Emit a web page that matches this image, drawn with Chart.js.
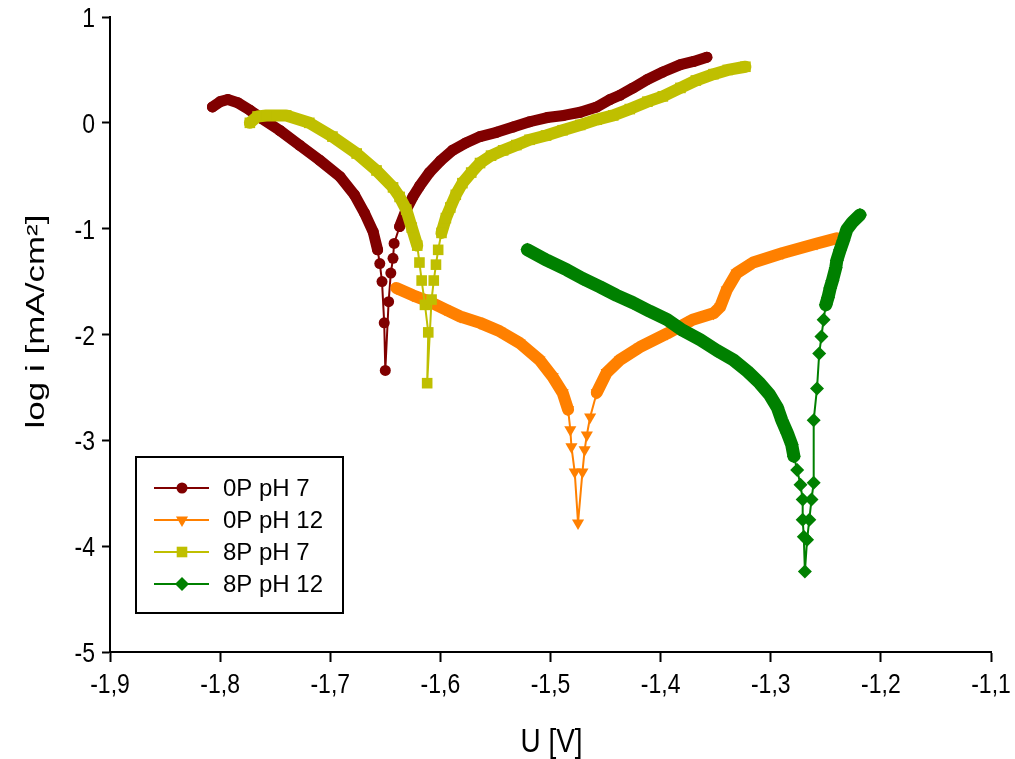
<!DOCTYPE html>
<html>
<head>
<meta charset="utf-8">
<title>Tafel curves</title>
<script src="https://cdn.jsdelivr.net/npm/chart.js@4.4.1/dist/chart.umd.min.js"></script>
<style>
  html, body { margin: 0; padding: 0; background: #fff; }
  #wrap { width: 1015px; height: 759px; }
</style>
</head>
<body>
<div id="wrap"><canvas id="tafel" width="1015" height="759"></canvas></div>
<script>
// Potential U [V] and log i [mA/cm2], one pair of arrays per curve
const u0P7 = [-1.807, -1.800, -1.793, -1.784, -1.773, -1.762, -1.746, -1.728, -1.710, -1.691,
  -1.678, -1.669, -1.661, -1.657, -1.655, -1.653, -1.651, -1.650, -1.647, -1.645,
  -1.643, -1.642, -1.637, -1.631, -1.625, -1.619, -1.610, -1.600, -1.589, -1.577,
  -1.564, -1.549, -1.534, -1.519, -1.503, -1.488, -1.473, -1.458, -1.446, -1.437,
  -1.425, -1.412, -1.398, -1.382, -1.370, -1.358];
const i0P7 = [0.15, 0.20, 0.22, 0.19, 0.12, 0.04, -0.07, -0.21, -0.35, -0.51,
  -0.68, -0.85, -1.03, -1.20, -1.33, -1.50, -1.89, -2.34, -1.69, -1.42,
  -1.28, -1.14, -0.98, -0.82, -0.70, -0.60, -0.47, -0.36, -0.26, -0.19,
  -0.13, -0.09, -0.04, 0.01, 0.05, 0.07, 0.10, 0.15, 0.22, 0.26,
  0.33, 0.41, 0.48, 0.55, 0.58, 0.62];

const u0P12 = [-1.640, -1.625, -1.610, -1.596, -1.582, -1.564, -1.546, -1.528, -1.510, -1.498,
  -1.489, -1.484, -1.482, -1.481, -1.478, -1.475, -1.471, -1.469, -1.467, -1.464,
  -1.458, -1.449, -1.437, -1.419, -1.394, -1.371, -1.352, -1.346, -1.340, -1.331,
  -1.316, -1.289, -1.258, -1.240];
const i0P12 = [-1.56, -1.63, -1.69, -1.76, -1.83, -1.89, -1.97, -2.08, -2.24, -2.40,
  -2.55, -2.71, -2.90, -3.06, -3.30, -3.78, -3.30, -3.09, -2.95, -2.78,
  -2.55, -2.36, -2.24, -2.12, -1.99, -1.86, -1.80, -1.74, -1.58, -1.42,
  -1.32, -1.23, -1.14, -1.09];

const u8P7 = [-1.773, -1.766, -1.758, -1.740, -1.719, -1.698, -1.676, -1.658, -1.643, -1.637,
  -1.631, -1.626, -1.621, -1.619, -1.617, -1.614, -1.611, -1.612, -1.608, -1.606,
  -1.604, -1.602, -1.599, -1.595, -1.591, -1.586, -1.580, -1.572, -1.564, -1.554,
  -1.543, -1.531, -1.519, -1.504, -1.489, -1.473, -1.458, -1.443, -1.428, -1.412,
  -1.398, -1.382, -1.368, -1.352, -1.339, -1.323];
const i8P7 = [0.00, 0.06, 0.07, 0.07, 0.00, -0.13, -0.29, -0.45, -0.61, -0.70,
  -0.82, -0.99, -1.16, -1.32, -1.49, -1.72, -1.98, -2.46, -1.67, -1.49,
  -1.34, -1.20, -1.04, -0.90, -0.80, -0.68, -0.57, -0.47, -0.38, -0.31,
  -0.26, -0.21, -0.16, -0.12, -0.07, -0.02, 0.03, 0.07, 0.13, 0.20,
  0.25, 0.33, 0.40, 0.46, 0.50, 0.53];

const u8P12 = [-1.521, -1.503, -1.485, -1.471, -1.455, -1.440, -1.425, -1.410, -1.394, -1.380,
  -1.364, -1.349, -1.334, -1.321, -1.310, -1.301, -1.294, -1.290, -1.285, -1.281,
  -1.279, -1.276, -1.273, -1.271, -1.271, -1.270, -1.269, -1.267, -1.265, -1.263,
  -1.261, -1.261, -1.258, -1.256, -1.254, -1.252, -1.250, -1.248, -1.246, -1.244,
  -1.241, -1.240, -1.237, -1.234, -1.231, -1.226, -1.219];
const i8P12 = [-1.20, -1.30, -1.39, -1.47, -1.55, -1.63, -1.70, -1.78, -1.86, -1.96,
  -2.05, -2.15, -2.24, -2.35, -2.46, -2.57, -2.69, -2.81, -2.93, -3.04,
  -3.15, -3.28, -3.42, -3.56, -3.75, -3.91, -4.24, -3.94, -3.75, -3.56,
  -3.40, -2.81, -2.51, -2.18, -2.02, -1.86, -1.72, -1.65, -1.56, -1.49,
  -1.37, -1.30, -1.20, -1.11, -1.01, -0.94, -0.87];

const seriesLabels = ['0P pH 7', '0P pH 12', '8P pH 7', '8P pH 12'];
const uTicks = [-1.9, -1.8, -1.7, -1.6, -1.5, -1.4, -1.3, -1.2, -1.1];
const logTicks = [1, 0, -1, -2, -3, -4, -5];
const xTitle = 'U [V]';
const yTitle = 'log i [mA/cm²]';

// look of each curve
const colors = ['#800000', '#ff8000', '#bfbf00', '#008000'];
const markers = [
  { pointStyle: 'circle', radius: 5.5, rotation: 0 },
  { pointStyle: 'triangle', radius: 7, rotation: 180 },
  { pointStyle: 'rect', radius: 7.5, rotation: 0 },
  { pointStyle: 'rectRot', radius: 7, rotation: 0 }
];
const bandWidth = [11, 12, 12, 13];
// around the corrosion potential the points are far apart: thin line there
const thinWindow = [[-1.6565, -1.6415], [-1.4825, -1.4635], [-1.6195, -1.6015], [-1.2775, -1.2515]];

const pairs = (us, is) => us.map((u, k) => ({ x: u, y: is[k] }));
const curves = [pairs(u0P7, i0P7), pairs(u0P12, i0P12), pairs(u8P7, i8P7), pairs(u8P12, i8P12)];

const fontSans = '"Liberation Sans", Arial, sans-serif';
const fmtU = v => v.toFixed(1).replace('.', ',');

function makeDataset(k) {
  const win = thinWindow[k];
  const inWin = v => v >= win[0] && v <= win[1];
  return {
    label: seriesLabels[k],
    data: curves[k],
    showLine: true,
    borderColor: colors[k],
    backgroundColor: colors[k],
    borderWidth: 2,
    borderJoinStyle: 'round',
    borderCapStyle: 'round',
    pointStyle: markers[k].pointStyle,
    pointRadius: markers[k].radius,
    pointRotation: markers[k].rotation,
    pointBorderWidth: 0,
    pointHoverRadius: markers[k].radius,
    order: 3 - k,
    segment: {
      borderWidth: c => (inWin(c.p0.parsed.x) || inWin(c.p1.parsed.x)) ? 2 : bandWidth[k]
    }
  };
}

// boxed legend in the lower left of the plot, line + marker for each curve
const legendBox = {
  id: 'legendBox',
  afterDraw(chart) {
    const { ctx, chartArea } = chart;
    const left = chartArea.left + 26, top = chartArea.top + 440;
    const w = 207, h = 156;
    ctx.save();
    ctx.fillStyle = '#fff';
    ctx.fillRect(left, top, w, h);
    ctx.strokeStyle = '#000';
    ctx.lineWidth = 2;
    ctx.strokeRect(left, top, w, h);
    chart.data.datasets.forEach((ds, k) => {
      const y = top + 31 + k * 32;
      ctx.strokeStyle = ds.borderColor;
      ctx.lineWidth = 2;
      ctx.beginPath();
      ctx.moveTo(left + 18, y);
      ctx.lineTo(left + 73, y);
      ctx.stroke();
      ctx.fillStyle = ds.borderColor;
      Chart.helpers.drawPoint(ctx, {
        pointStyle: ds.pointStyle, rotation: ds.pointRotation, radius: ds.pointRadius, borderWidth: 0
      }, left + 46, y);
      ctx.fillStyle = '#000';
      ctx.font = '24px ' + fontSans;
      ctx.textBaseline = 'middle';
      ctx.textAlign = 'left';
      ctx.fillText(ds.label, left + 87, y + 1);
    });
    ctx.restore();
  }
};

// axis numbers and titles: the original has tall, narrow axis lettering
// and a long, thin y title, so they are drawn with a horizontal squeeze / stretch
function scaledText(ctx, text, x, y, sx, rot) {
  ctx.save();
  ctx.translate(x, y);
  if (rot) ctx.rotate(rot);
  ctx.scale(sx, 1);
  ctx.fillText(text, 0, 0);
  ctx.restore();
}

const axisText = {
  id: 'axisText',
  afterDraw(chart) {
    const { ctx, chartArea, scales } = chart;
    const sx = scales.x, sy = scales.y;
    ctx.save();
    ctx.fillStyle = '#000';
    ctx.font = '28px ' + fontSans;
    ctx.textBaseline = 'alphabetic';

    ctx.textAlign = 'center';
    uTicks.forEach(v => scaledText(ctx, fmtU(v), sx.getPixelForValue(v), sx.top + 41, 0.82));

    ctx.textAlign = 'right';
    logTicks.forEach(v => scaledText(ctx, String(v), sy.right - 15, sy.getPixelForValue(v) + 10, 0.82));

    ctx.font = '34px ' + fontSans;
    ctx.textAlign = 'center';
    scaledText(ctx, xTitle, (chartArea.left + chartArea.right) / 2 + 1, 752, 0.82);

    ctx.font = '25px ' + fontSans;
    ctx.textBaseline = 'middle';
    scaledText(ctx, yTitle, 37, (chartArea.top + chartArea.bottom) / 2 - 13, 1.4, -Math.PI / 2);
    ctx.restore();
  }
};

new Chart(document.getElementById('tafel'), {
  type: 'scatter',
  data: { datasets: [0, 1, 2, 3].map(makeDataset) },
  options: {
    responsive: false,
    animation: false,
    devicePixelRatio: 1,
    layout: { padding: { top: 17, right: 24, bottom: 0, left: 0 } },
    plugins: {
      legend: { display: false },
      tooltip: { enabled: false }
    },
    scales: {
      x: {
        type: 'linear',
        min: -1.9,
        max: -1.1,
        afterBuildTicks: s => { s.ticks = uTicks.map(v => ({ value: v })); },
        afterFit: s => { s.height = 107; },
        border: { display: true, color: '#000', width: 2 },
        grid: { drawOnChartArea: false, drawTicks: true, tickLength: 10, tickColor: '#000', tickWidth: 2 },
        ticks: { display: false },
        title: { display: false }
      },
      y: {
        type: 'linear',
        min: -5,
        max: 1,
        afterBuildTicks: s => { s.ticks = logTicks.map(v => ({ value: v })); },
        afterFit: s => { s.width = 110; },
        border: { display: true, color: '#000', width: 2 },
        grid: { drawOnChartArea: false, drawTicks: true, tickLength: 8, tickColor: '#000', tickWidth: 2 },
        ticks: { display: false },
        title: { display: false }
      }
    }
  },
  plugins: [legendBox, axisText]
});
</script>
</body>
</html>
